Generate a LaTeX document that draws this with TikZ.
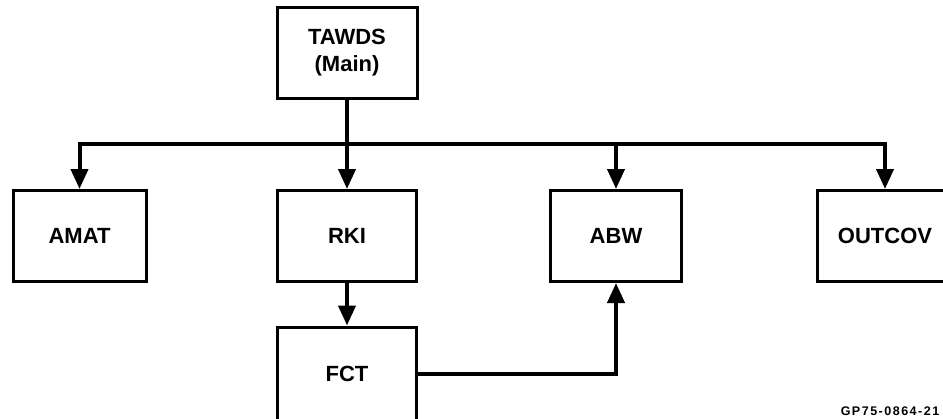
\documentclass[tikz,border=0pt]{standalone}
\usepackage{fontspec}
\setmainfont{Liberation Sans}
\usetikzlibrary{arrows.meta}
\tikzset{
  box/.style={draw, line width=3pt, minimum height=91pt, inner sep=0pt,
    font=\fontsize{22}{27}\selectfont\bfseries, align=center},
  conn/.style={line width=4pt, line join=miter},
  arr/.style={conn, -{Triangle[width=17pt,length=20pt]}},
  darr/.style={conn, {Triangle[width=17pt,length=20pt]}-{Triangle[width=17pt,length=20pt]}},
}
\begin{document}
\begin{tikzpicture}[x=1pt,y=-1pt]
\useasboundingbox (0,0) rectangle (943,418);
\clip (0,0) rectangle (943,418);
\node[box, minimum width=140pt, minimum height=91pt] (tawds) at (347,52.5) {TAWDS\\(Main)};
\node[box, minimum width=133pt] (amat) at (79.5,236) {AMAT};
\node[box, minimum width=139pt] (rki) at (347,236) {RKI};
\node[box, minimum width=131pt] (abw) at (616,236) {ABW};
\node[box, minimum width=136pt] (outcov) at (885,236) {OUTCOV};
\node[box, minimum width=139pt, minimum height=94pt] (fct) at (347,374) {FCT};
\node[font=\fontsize{12.5}{13}\selectfont\bfseries\addfontfeature{LetterSpace=12}] (lbl) at (890,411) {GP75-0864-21};
\draw[darr] (amat.north) -- ++(0,-45) coordinate (busl) -| (outcov.north);
\draw[arr] (tawds.south) -- (rki.north);
\draw[arr] (abw.north |- busl) -- (abw.north);
\draw[arr] (rki.south) -- (fct.north);
\draw[arr] (fct.east) -| (abw.south);
\end{tikzpicture}
\end{document}
